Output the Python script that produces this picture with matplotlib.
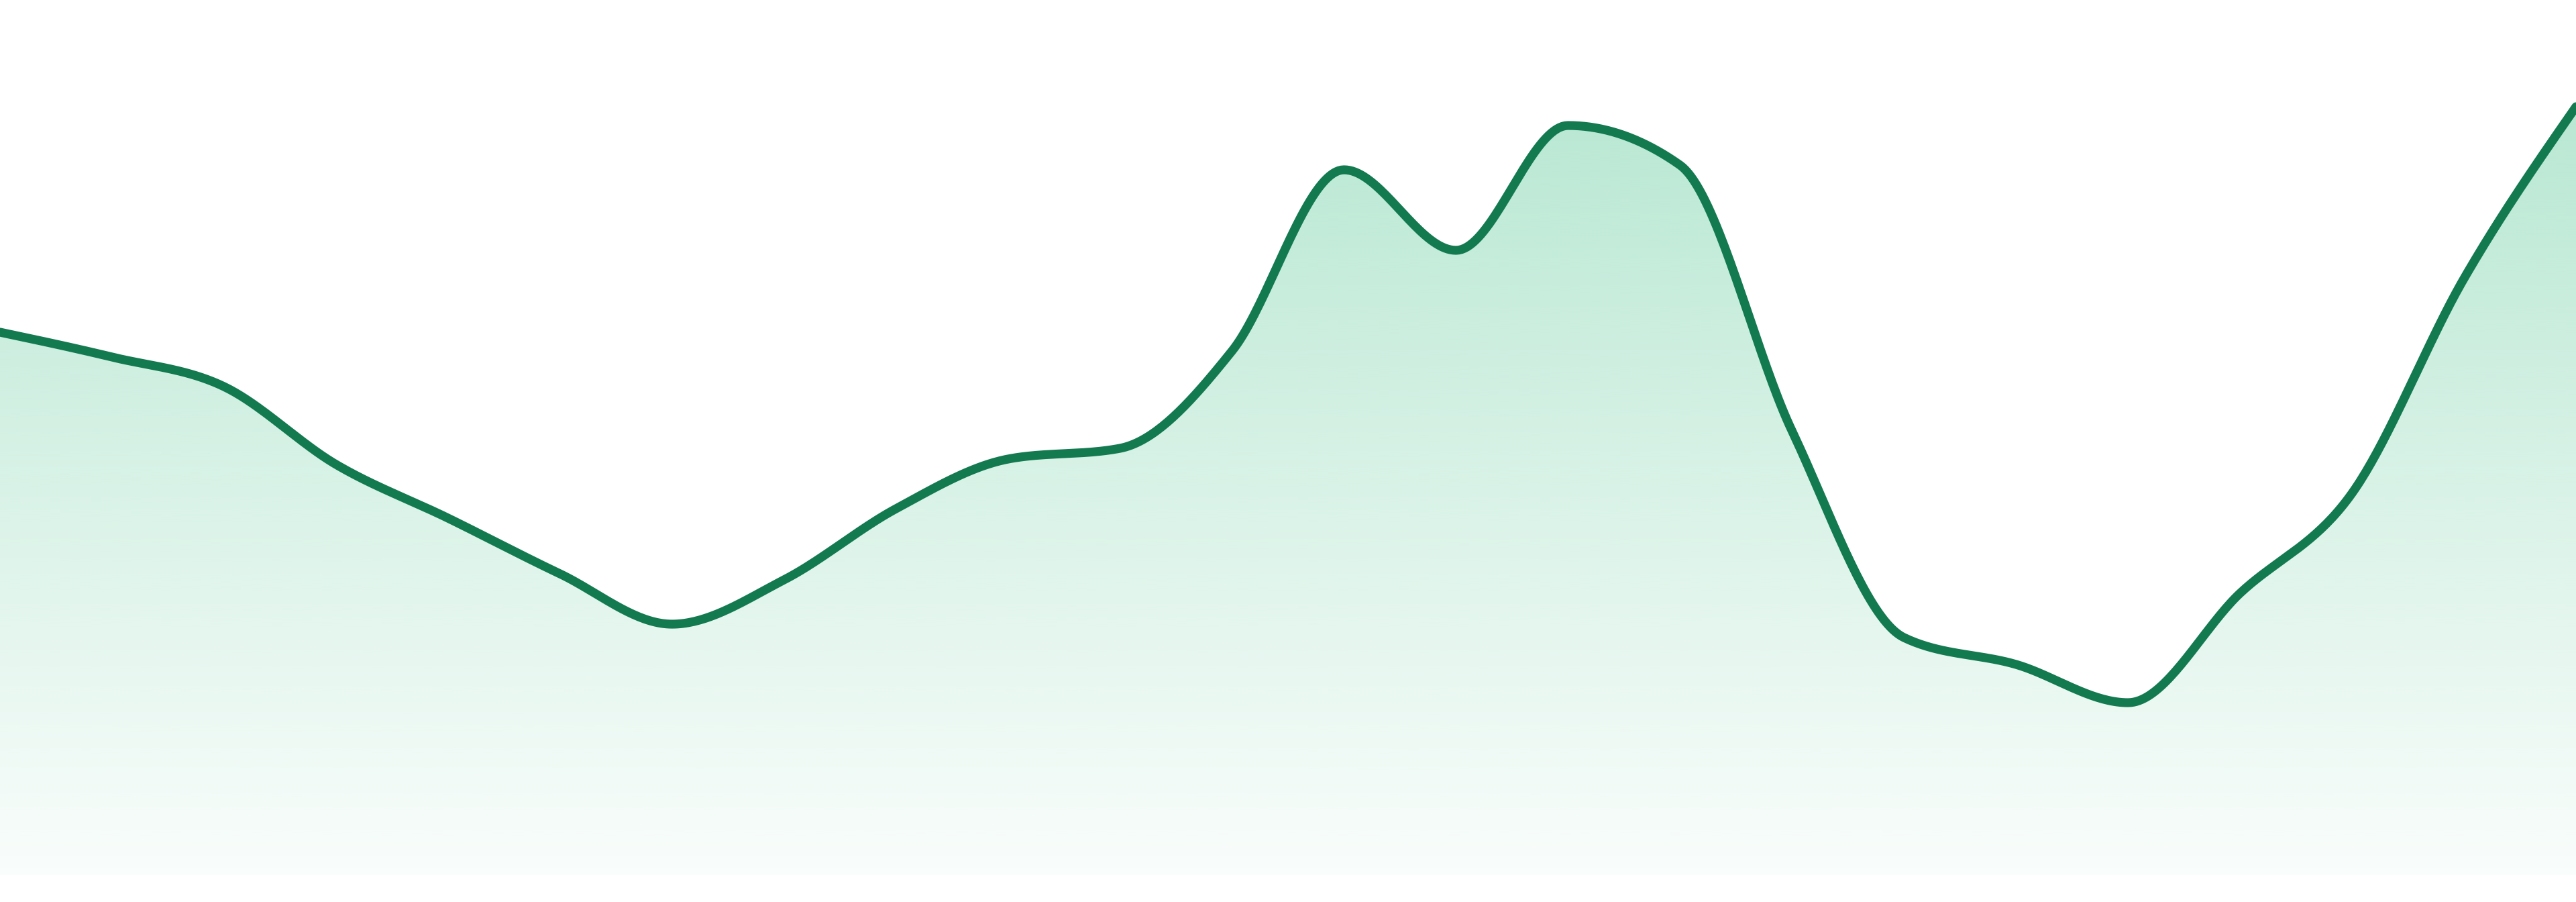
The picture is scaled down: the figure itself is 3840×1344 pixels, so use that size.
import numpy as np
import matplotlib
matplotlib.use("Agg")
import matplotlib.pyplot as plt

# values, one per step (24 steps)
steps = list(range(24))
values = [809, 772, 728, 612, 532, 449, 374, 440, 546, 620, 636, 781,
          1051, 931, 1117, 1058, 662, 354, 314, 257, 420, 569, 889, 1145]

line_color = "#137a50"
fill_color = "#b9e8d3"


def monotone_curve(x, y, n=40):
    # monotone cubic through the points (same idea as d3 curveMonotoneX)
    x = np.asarray(x, float)
    y = np.asarray(y, float)
    h = np.diff(x)
    s = np.diff(y) / h
    t = np.zeros(len(x))
    for i in range(1, len(x) - 1):
        p = (s[i - 1] * h[i] + s[i] * h[i - 1]) / (h[i - 1] + h[i])
        t[i] = (np.sign(s[i - 1]) + np.sign(s[i])) * min(abs(s[i - 1]), abs(s[i]), 0.5 * abs(p))
    t[0] = (3 * s[0] - t[1]) / 2
    t[-1] = (3 * s[-1] - t[-2]) / 2
    xs, ys = [], []
    u = np.linspace(0, 1, n, endpoint=False)
    for i in range(len(x) - 1):
        dx = h[i] / 3
        p0 = (x[i], y[i])
        p1 = (x[i] + dx, y[i] + dx * t[i])
        p2 = (x[i + 1] - dx, y[i + 1] - dx * t[i + 1])
        p3 = (x[i + 1], y[i + 1])
        b0 = (1 - u) ** 3
        b1 = 3 * (1 - u) ** 2 * u
        b2 = 3 * (1 - u) * u ** 2
        b3 = u ** 3
        xs.append(b0 * p0[0] + b1 * p1[0] + b2 * p2[0] + b3 * p3[0])
        ys.append(b0 * p0[1] + b1 * p1[1] + b2 * p2[1] + b3 * p3[1])
    xs.append([x[-1]])
    ys.append([y[-1]])
    return np.concatenate(xs), np.concatenate(ys)


cx, cy = monotone_curve(steps, values)

fig = plt.figure(figsize=(38.4, 13.44), dpi=100)
ax = fig.add_axes([0, 0, 1, 1])
ax.set_xlim(0, 23)
ax.set_ylim(-40, 1304)
ax.axis("off")

# gradient fill under the curve
top = max(values)
poly = ax.fill_between(cx, cy, 0, facecolor="none", edgecolor="none")
grad = np.zeros((256, 1, 4))
rgb = matplotlib.colors.to_rgb(fill_color)
grad[:, 0, 0] = rgb[0]
grad[:, 0, 1] = rgb[1]
grad[:, 0, 2] = rgb[2]
grad[:, 0, 3] = np.linspace(0.08, 1.0, 256)
img = ax.imshow(grad, extent=[0, 23, 0, top], origin="lower", aspect="auto", interpolation="bilinear")
img.set_clip_path(poly.get_paths()[0], transform=ax.transData)

ax.plot(cx, cy, color=line_color, linewidth=9.5, solid_capstyle="round", solid_joinstyle="round")

fig.savefig("out.png", dpi=100)
